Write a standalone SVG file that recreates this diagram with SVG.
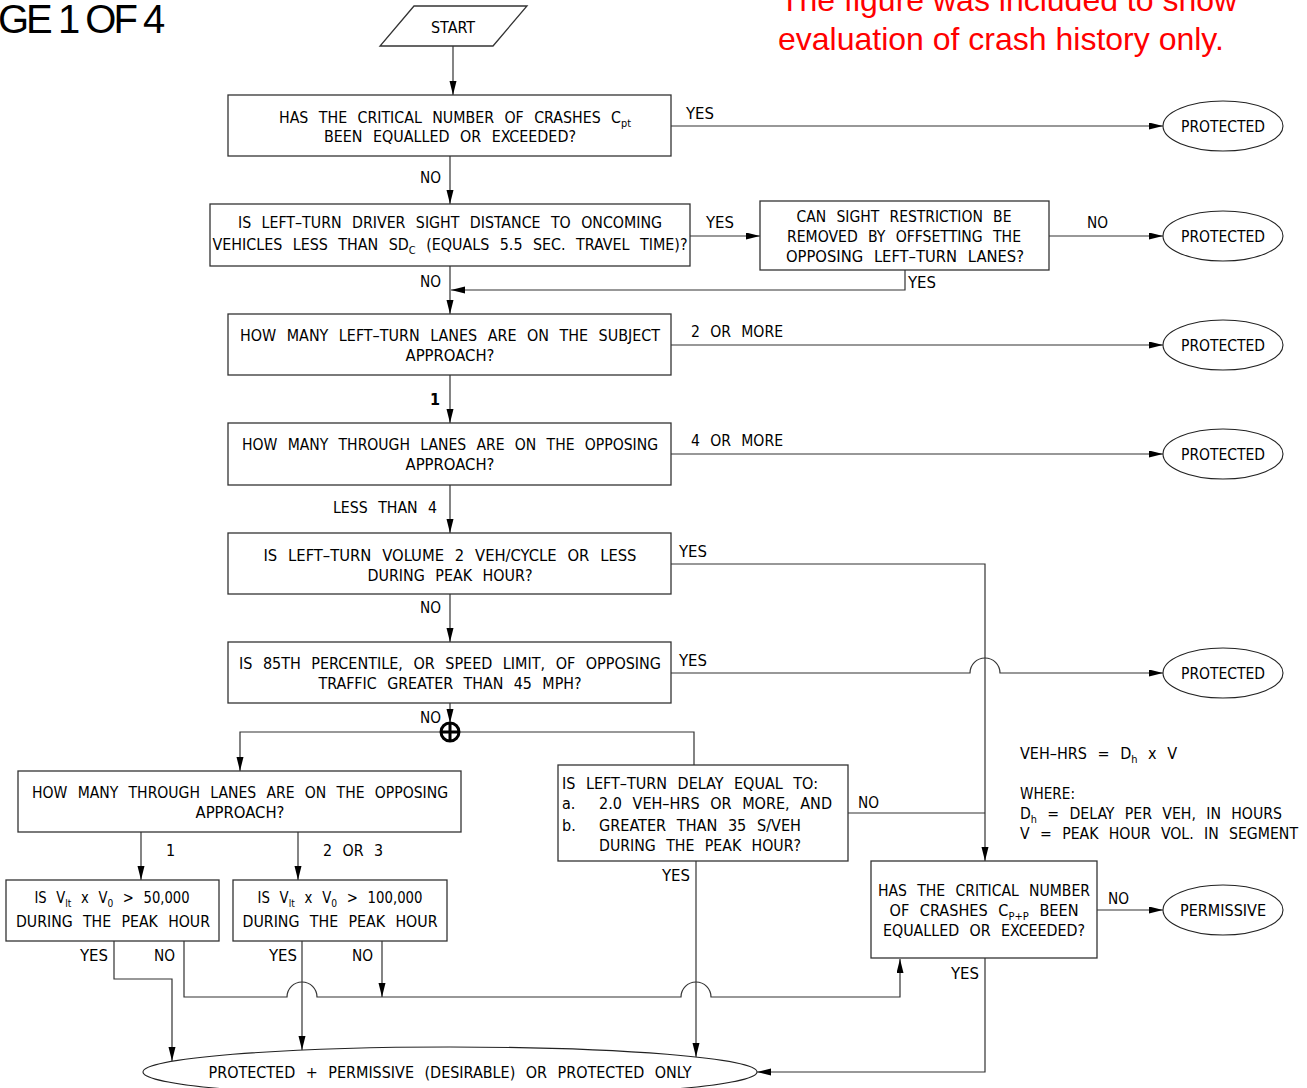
<svg xmlns="http://www.w3.org/2000/svg" width="1307" height="1088" viewBox="0 0 1307 1088">
<style>
.bx{fill:#fff;stroke:#333;stroke-width:1.3}
.el{fill:#fff;stroke:#222;stroke-width:1.1}
.t{font-family:"DejaVu Sans Condensed","Liberation Sans",sans-serif;font-size:16px;fill:#000;word-spacing:6px}
.c{text-anchor:middle}
.sub{font-size:11px}
.ln{fill:none;stroke:#333;stroke-width:1.2}
.ar{marker-end:url(#ah)}
</style>
<defs>
<marker id="ah" markerUnits="userSpaceOnUse" markerWidth="15" markerHeight="8" refX="14" refY="3.5" orient="auto">
<path d="M0,0 L14,3.5 L0,7 z" fill="#000"/>
</marker>
</defs>
<rect width="1307" height="1088" fill="#fff"/>
<text x="-2" y="33" font-family="Liberation Sans,Arial,sans-serif" font-size="40" letter-spacing="-3" fill="#000">GE 1 OF 4</text>
<g font-family="Liberation Sans,Arial,sans-serif" font-size="32" fill="#ff0000">
<text x="780" y="11">The figure was included to show</text>
<text x="778" y="50">evaluation of crash history only.</text>
</g>
<g id="connectors">
<path class="ln ar" d="M453,46 V95"/>
<path class="ln ar" d="M671,126 H1163"/>
<path class="ln ar" d="M450,156 V204"/>
<path class="ln ar" d="M690,236 H760"/>
<path class="ln ar" d="M1049,236 H1163"/>
<path class="ln ar" d="M905,270 V290 H451"/>
<path class="ln ar" d="M450,266 V314"/>
<path class="ln ar" d="M671,345 H1163"/>
<path class="ln ar" d="M450,375 V423"/>
<path class="ln ar" d="M671,454 H1163"/>
<path class="ln ar" d="M450,485 V533"/>
<path class="ln ar" d="M671,564 H985 V861"/>
<path class="ln ar" d="M450,594 V642"/>
<path class="ln ar" d="M671,673 H970 A15,15 0 0 1 1000,673 H1163"/>
<path class="ln ar" d="M450,703 V723"/>
<path class="ln ar" d="M694,765 V732 H240 V771"/>
<g stroke="#000" stroke-width="3" fill="none"><circle cx="450" cy="732" r="9"/><path d="M441,732 H459 M450,723 V741"/></g>
<path class="ln ar" d="M141,832 V880"/>
<path class="ln ar" d="M298,832 V880"/>
<path class="ln ar" d="M114,941 V979 H172 V1061"/>
<path class="ln ar" d="M184,941 V997 H287 A15,15 0 0 1 317,997 H681 A15,15 0 0 1 711,997 H900 V959"/>
<path class="ln ar" d="M302,941 V1050"/>
<path class="ln ar" d="M382,941 V997"/>
<path class="ln ar" d="M696,861 V1057"/>
<path class="ln" d="M848,813 H985"/>
<path class="ln ar" d="M1097,910 H1163"/>
<path class="ln ar" d="M985,958 V1072 H757"/>
<g class="t">
<text x="686" y="119" textLength="28" lengthAdjust="spacingAndGlyphs">YES</text>
<text x="420" y="183" textLength="21" lengthAdjust="spacingAndGlyphs">NO</text>
<text x="706" y="228" textLength="28" lengthAdjust="spacingAndGlyphs">YES</text>
<text x="1087" y="228" textLength="21" lengthAdjust="spacingAndGlyphs">NO</text>
<text x="908" y="288" textLength="28" lengthAdjust="spacingAndGlyphs">YES</text>
<text x="420" y="287" textLength="21" lengthAdjust="spacingAndGlyphs">NO</text>
<text x="691" y="337" textLength="92" lengthAdjust="spacingAndGlyphs">2 OR MORE</text>
<text x="430" y="405" font-weight="bold">1</text>
<text x="691" y="446" textLength="92" lengthAdjust="spacingAndGlyphs">4 OR MORE</text>
<text x="333" y="513" textLength="104" lengthAdjust="spacingAndGlyphs">LESS THAN 4</text>
<text x="679" y="557" textLength="28" lengthAdjust="spacingAndGlyphs">YES</text>
<text x="420" y="613" textLength="21" lengthAdjust="spacingAndGlyphs">NO</text>
<text x="679" y="666" textLength="28" lengthAdjust="spacingAndGlyphs">YES</text>
<text x="420" y="723" textLength="21" lengthAdjust="spacingAndGlyphs">NO</text>
<text x="166" y="856">1</text>
<text x="323" y="856" textLength="60" lengthAdjust="spacingAndGlyphs">2 OR 3</text>
<text x="80" y="961" textLength="28" lengthAdjust="spacingAndGlyphs">YES</text>
<text x="154" y="961" textLength="21" lengthAdjust="spacingAndGlyphs">NO</text>
<text x="269" y="961" textLength="28" lengthAdjust="spacingAndGlyphs">YES</text>
<text x="352" y="961" textLength="21" lengthAdjust="spacingAndGlyphs">NO</text>
<text x="858" y="808" textLength="21" lengthAdjust="spacingAndGlyphs">NO</text>
<text x="662" y="881" textLength="28" lengthAdjust="spacingAndGlyphs">YES</text>
<text x="1108" y="904" textLength="21" lengthAdjust="spacingAndGlyphs">NO</text>
<text x="951" y="979" textLength="28" lengthAdjust="spacingAndGlyphs">YES</text>
</g>
</g>
<g id="start"><path class="bx" d="M414,6 H527 L493,46 H380 Z"/><text class="t c" x="453" y="33" textLength="44" lengthAdjust="spacingAndGlyphs">START</text></g>
<g id="q1"><rect class="bx" x="228" y="95" width="443" height="61"/>
<text class="t c" x="455" y="123" textLength="352" lengthAdjust="spacingAndGlyphs">HAS THE CRITICAL NUMBER OF CRASHES C<tspan class="sub" dy="4">pt</tspan></text>
<text class="t c" x="450" y="142" textLength="252" lengthAdjust="spacingAndGlyphs">BEEN EQUALLED OR EXCEEDED?</text></g>
<g id="q2"><rect class="bx" x="210" y="204" width="480" height="62"/>
<text class="t c" x="450" y="228" textLength="424" lengthAdjust="spacingAndGlyphs">IS LEFT–TURN DRIVER SIGHT DISTANCE TO ONCOMING</text>
<text class="t c" x="450" y="250" textLength="475" lengthAdjust="spacingAndGlyphs">VEHICLES LESS THAN SD<tspan class="sub" dy="4">C</tspan><tspan dy="-4"> (EQUALS 5.5 SEC. TRAVEL TIME)?</tspan></text></g>
<g id="q3"><rect class="bx" x="760" y="201" width="289" height="69"/>
<text class="t c" x="904" y="222" textLength="215" lengthAdjust="spacingAndGlyphs">CAN SIGHT RESTRICTION BE</text>
<text class="t c" x="904" y="242" textLength="234" lengthAdjust="spacingAndGlyphs">REMOVED BY OFFSETTING THE</text>
<text class="t c" x="905" y="262" textLength="238" lengthAdjust="spacingAndGlyphs">OPPOSING LEFT–TURN LANES?</text></g>
<g id="q4"><rect class="bx" x="228" y="314" width="443" height="61"/>
<text class="t c" x="450" y="341" textLength="420" lengthAdjust="spacingAndGlyphs">HOW MANY LEFT–TURN LANES ARE ON THE SUBJECT</text>
<text class="t c" x="450" y="361" textLength="89" lengthAdjust="spacingAndGlyphs">APPROACH?</text></g>
<g id="q5"><rect class="bx" x="228" y="423" width="443" height="62"/>
<text class="t c" x="450" y="450" textLength="416" lengthAdjust="spacingAndGlyphs">HOW MANY THROUGH LANES ARE ON THE OPPOSING</text>
<text class="t c" x="450" y="470" textLength="89" lengthAdjust="spacingAndGlyphs">APPROACH?</text></g>
<g id="q6"><rect class="bx" x="228" y="533" width="443" height="61"/>
<text class="t c" x="450" y="561" textLength="373" lengthAdjust="spacingAndGlyphs">IS LEFT–TURN VOLUME 2 VEH/CYCLE OR LESS</text>
<text class="t c" x="450" y="581" textLength="165" lengthAdjust="spacingAndGlyphs">DURING PEAK HOUR?</text></g>
<g id="q7"><rect class="bx" x="228" y="642" width="443" height="61"/>
<text class="t c" x="450" y="669" textLength="422" lengthAdjust="spacingAndGlyphs">IS 85TH PERCENTILE, OR SPEED LIMIT, OF OPPOSING</text>
<text class="t c" x="450" y="689" textLength="263" lengthAdjust="spacingAndGlyphs">TRAFFIC GREATER THAN 45 MPH?</text></g>
<g id="q8"><rect class="bx" x="18" y="771" width="443" height="61"/>
<text class="t c" x="240" y="798" textLength="416" lengthAdjust="spacingAndGlyphs">HOW MANY THROUGH LANES ARE ON THE OPPOSING</text>
<text class="t c" x="240" y="818" textLength="89" lengthAdjust="spacingAndGlyphs">APPROACH?</text></g>
<g id="q9"><rect class="bx" x="6" y="880" width="213" height="61"/>
<text class="t c" x="112" y="903" textLength="155" lengthAdjust="spacingAndGlyphs">IS V<tspan class="sub" dy="4">lt</tspan><tspan dy="-4"> x V</tspan><tspan class="sub" dy="4">0</tspan><tspan dy="-4"> &gt; 50,000</tspan></text>
<text class="t c" x="113" y="927" textLength="194" lengthAdjust="spacingAndGlyphs">DURING THE PEAK HOUR</text></g>
<g id="q10"><rect class="bx" x="233" y="880" width="214" height="61"/>
<text class="t c" x="340" y="903" textLength="165" lengthAdjust="spacingAndGlyphs">IS V<tspan class="sub" dy="4">lt</tspan><tspan dy="-4"> x V</tspan><tspan class="sub" dy="4">0</tspan><tspan dy="-4"> &gt; 100,000</tspan></text>
<text class="t c" x="340" y="927" textLength="195" lengthAdjust="spacingAndGlyphs">DURING THE PEAK HOUR</text></g>
<g id="q11"><rect class="bx" x="558" y="765" width="290" height="96"/>
<text class="t" x="562" y="789" textLength="256" lengthAdjust="spacingAndGlyphs">IS LEFT–TURN DELAY EQUAL TO:</text>
<text class="t" x="562" y="809">a.</text><text class="t" x="599" y="809" textLength="233" lengthAdjust="spacingAndGlyphs">2.0 VEH–HRS OR MORE, AND</text>
<text class="t" x="562" y="831">b.</text><text class="t" x="599" y="831" textLength="202" lengthAdjust="spacingAndGlyphs">GREATER THAN 35 S/VEH</text>
<text class="t" x="599" y="851" textLength="202" lengthAdjust="spacingAndGlyphs">DURING THE PEAK HOUR?</text></g>
<g id="q12"><rect class="bx" x="871" y="861" width="226" height="97"/>
<text class="t c" x="984" y="896" textLength="212" lengthAdjust="spacingAndGlyphs">HAS THE CRITICAL NUMBER</text>
<text class="t c" x="984" y="916" textLength="189" lengthAdjust="spacingAndGlyphs">OF CRASHES C<tspan class="sub" dy="4">P+P</tspan><tspan dy="-4"> BEEN</tspan></text>
<text class="t c" x="984" y="936" textLength="202" lengthAdjust="spacingAndGlyphs">EQUALLED OR EXCEEDED?</text></g>
<g id="note">
<text class="t" x="1020" y="759" textLength="157" lengthAdjust="spacingAndGlyphs">VEH–HRS = D<tspan class="sub" dy="4">h</tspan><tspan dy="-4"> x V</tspan></text>
<text class="t" x="1020" y="799" textLength="55" lengthAdjust="spacingAndGlyphs">WHERE:</text>
<text class="t" x="1020" y="819" textLength="262" lengthAdjust="spacingAndGlyphs">D<tspan class="sub" dy="4">h</tspan><tspan dy="-4"> = DELAY PER VEH, IN HOURS</tspan></text>
<text class="t" x="1020" y="839" textLength="278" lengthAdjust="spacingAndGlyphs">V = PEAK HOUR VOL. IN SEGMENT</text>
</g>
<g id="p1"><ellipse class="el" cx="1223" cy="126" rx="60" ry="25"/><text class="t c" x="1223" y="132" textLength="84" lengthAdjust="spacingAndGlyphs">PROTECTED</text></g>
<g id="p2"><ellipse class="el" cx="1223" cy="236" rx="60" ry="25"/><text class="t c" x="1223" y="242" textLength="84" lengthAdjust="spacingAndGlyphs">PROTECTED</text></g>
<g id="p3"><ellipse class="el" cx="1223" cy="345" rx="60" ry="25"/><text class="t c" x="1223" y="351" textLength="84" lengthAdjust="spacingAndGlyphs">PROTECTED</text></g>
<g id="p4"><ellipse class="el" cx="1223" cy="454" rx="60" ry="25"/><text class="t c" x="1223" y="460" textLength="84" lengthAdjust="spacingAndGlyphs">PROTECTED</text></g>
<g id="p5"><ellipse class="el" cx="1223" cy="673" rx="60" ry="25"/><text class="t c" x="1223" y="679" textLength="84" lengthAdjust="spacingAndGlyphs">PROTECTED</text></g>
<g id="perm"><ellipse class="el" cx="1223" cy="910" rx="60" ry="25"/><text class="t c" x="1223" y="916" textLength="86" lengthAdjust="spacingAndGlyphs">PERMISSIVE</text></g>
<g id="final"><ellipse class="el" cx="450" cy="1072" rx="307" ry="25"/><text class="t c" x="450" y="1078" textLength="483" lengthAdjust="spacingAndGlyphs">PROTECTED + PERMISSIVE (DESIRABLE) OR PROTECTED ONLY</text></g>
</svg>
